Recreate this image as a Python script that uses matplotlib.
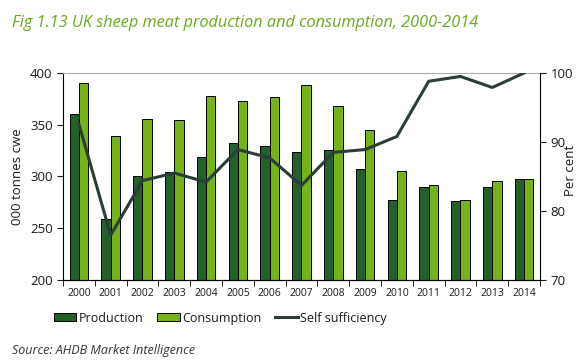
import matplotlib
matplotlib.use("Agg")
import matplotlib.pyplot as plt
import numpy as np
from matplotlib.lines import Line2D
from matplotlib.patches import Patch

years = ["2000", "2001", "2002", "2003", "2004", "2005", "2006", "2007",
         "2008", "2009", "2010", "2011", "2012", "2013", "2014"]
production = [360, 259, 300, 304, 319, 332, 329, 324, 326, 307, 277, 290, 276, 290, 298]
consumption = [390, 339, 356, 355, 378, 373, 377, 388, 368, 345, 305, 292, 277, 296, 298]
self_sufficiency = [92.6, 76.5, 84.4, 85.5, 84.2, 88.9, 87.7, 83.7, 88.5, 88.9, 90.8,
                    98.8, 99.5, 97.9, 100.0]

plt.rcParams['font.family'] = ['Open Sans', 'DejaVu Sans']
txt = '#1a1a1a'
fig = plt.figure(figsize=(5.87, 3.61), dpi=100)
ax = fig.add_axes([0.1073, 0.2244, 0.8126, 0.5734])

x = np.arange(len(years))
w = 0.29
ax.bar(x - w / 2, production, w, color='#246128', edgecolor='black', linewidth=0.7, zorder=2)
ax.bar(x + w / 2, consumption, w, color='#74b31a', edgecolor='black', linewidth=0.7, zorder=2)
ax.set_ylim(200, 400)
ax.set_xlim(-0.5, len(years) - 0.5)
ax.set_yticks([200, 250, 300, 350, 400])
ax.tick_params(axis='y', labelsize=9.5, colors=txt, length=4, direction='out')
ax.set_xticks(x)
ax.set_xticklabels(years, fontsize=7.5, color=txt)
ax.set_xticks(np.arange(-0.5, len(years), 1), minor=True)
ax.tick_params(axis='x', which='major', length=0, pad=6)
ax.tick_params(axis='x', which='minor', length=4, direction='out', color='black')
ax.set_ylabel('000 tonnes cwe', fontsize=9.5, color=txt, labelpad=4)
ax.spines['top'].set_color('#aaaaaa')
ax.spines['right'].set_visible(False)

ax2 = ax.twinx()
ax2.plot(x, self_sufficiency, color='#2a3d38', linewidth=2.2, zorder=3)
ax2.set_ylim(70, 100)
ax2.set_yticks([70, 80, 90, 100])
ax2.tick_params(axis='y', labelsize=9.5, colors=txt, length=4, direction='out')
ax2.set_ylabel('Per cent', fontsize=9.5, color=txt)
ax2.yaxis.set_label_coords(1.05, 0.53)
ax2.spines['top'].set_visible(False)
ax2.spines['left'].set_visible(False)

fig.text(0.02, 0.937, 'Fig 1.13 UK sheep meat production and consumption, 2000-2014',
         fontsize=11.7, style='italic', color='#6aab1c', va='center', ha='left')

handles = [Patch(facecolor='#246128', edgecolor='black', linewidth=0.7),
           Patch(facecolor='#74b31a', edgecolor='black', linewidth=0.7),
           Line2D([0], [0], color='#2a3d38', linewidth=2.2)]
fig.legend(handles, ['Production', 'Consumption', 'Self sufficiency'],
           loc='center', bbox_to_anchor=(0.375, 0.119), ncol=3, frameon=False,
           fontsize=9, handlelength=1.8, handleheight=0.6, handletextpad=0.2,
           columnspacing=1.1, labelcolor=txt)

fig.text(0.02, 0.03, 'Source: AHDB Market Intelligence', fontsize=9, style='italic',
         color='#333333', va='center', ha='left')

fig.savefig('out.png', dpi=100)
